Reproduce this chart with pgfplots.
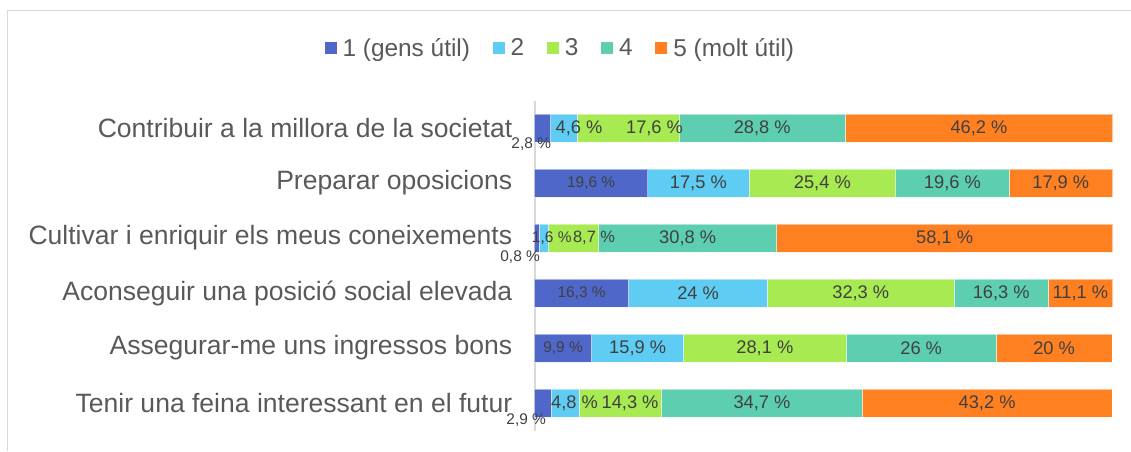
\documentclass[border=0pt]{standalone}
\usepackage{pgfplots}
\usepackage{pgfplotstable}
\pgfplotsset{compat=1.18}
\usepackage{fontspec}
\setmainfont{Liberation Sans}
\definecolor{c1}{HTML}{4E67C8}
\definecolor{c2}{HTML}{5ECCF3}
\definecolor{c3}{HTML}{A7EA52}
\definecolor{c4}{HTML}{5DCEAF}
\definecolor{c5}{HTML}{FF8021}
\definecolor{lbl}{HTML}{404040}
\definecolor{cat}{HTML}{595959}
\definecolor{grid}{HTML}{D9D9D9}

% y: 5 = top row ... 0 = bottom row
\pgfplotstableread{
y a b c d e
5 2.8 4.6 17.6 28.8 46.2
4 19.6 17.5 25.4 19.6 17.9
3 0.8 1.6 8.7 30.8 58.1
2 16.3 24 32.3 16.3 11.1
1 9.9 15.9 28.1 26 20
0 2.9 4.8 14.3 34.7 43.2
}\bars

% label table: start of segment, value, shifts (pt), font size (pt)
\pgfplotstableread{
y lo v dx dy fs
5 0 2.8 -8.5 -12 11.6
5 2.8 4.6 11.25 0 13.7
5 7.4 17.6 19.8 0 13.7
5 25 28.8 0 0 13.7
5 53.8 46.2 0 0 13.7
4 0 19.6 0 0 11.6
4 19.6 17.5 0 0 13.7
4 37.1 25.4 0 0 13.7
4 62.5 19.6 0 0 13.7
4 82.1 17.9 0 0 13.7
3 0 0.8 -12.5 -14.6 11.6
3 0.8 1.6 6 0 11.6
3 2.4 8.7 15.4 0 12.3
3 11.1 30.8 0 0 13.7
3 41.9 58.1 0 0 13.7
2 0 16.3 0 0 11.6
2 16.3 24 0 0 13.7
2 40.3 32.3 0 0 13.7
2 72.6 16.3 0 0 13.7
2 88.9 11.1 0 0 13.7
1 0 9.9 0 0 11.6
1 9.9 15.9 0 0 13.7
1 25.8 28.1 0 0 13.7
1 53.9 26 0 0 13.7
1 79.9 20 0 0 13.7
0 0 2.9 -12.5 -12.75 11.6
0 2.9 4.8 7 0 13.7
0 7.7 14.3 7.3 0 13.7
0 22 34.7 0 0 13.7
0 56.7 43.2 0 0 13.7
}\labels

\begin{document}
\begin{tikzpicture}
\path[use as bounding box] (0,0) rectangle (848.25pt,338.25pt);
\draw[grid, line width=0.75pt] (5.6pt,0) -- (5.6pt,330.4pt) -- (848.25pt,330.4pt);

\begin{axis}[
  at={(400.875pt,15.375pt)}, anchor=south west,
  scale only axis, width=433.5pt, height=247.5pt,
  xbar stacked, bar width=21pt,
  xmin=0, xmax=100, ymin=-0.5, ymax=5.5,
  axis x line=none,
  axis y line*=left,
  y axis line style={grid, line width=1.5pt},
  ytick={0,1,2,3,4,5},
  yticklabels={Tenir una feina interessant en el futur,
    Assegurar-me uns ingressos bons,
    Aconseguir una posició social elevada,
    Cultivar i enriquir els meus coneixements,
    Preparar oposicions,
    Contribuir a la millora de la societat},
  ytick style={draw=none},
  major tick length=0pt,
  yticklabel style={font=\fontsize{19.9}{22}\selectfont, text=cat, inner sep=0pt, xshift=-16.5pt},
  legend columns=5,
  legend style={draw=none, fill=none, at={(0.0441,1.159)}, anchor=center,
    font=\fontsize{18.3}{20}\selectfont, text=cat,
    /tikz/every even column/.append style={column sep=16pt},
    /tikz/every odd column/.append style={column sep=3.5pt},
    nodes={inner sep=1pt}},
  legend image code/.code={\fill[#1,draw=none] (0pt,-4.5pt) rectangle (9pt,4.5pt);},
  every axis plot/.append style={draw=white, draw opacity=0.5, line width=0.6pt},
]
\addplot[fill=c1] table[x=a,y=y] {\bars};
\addplot[fill=c2] table[x=b,y=y] {\bars};
\addplot[fill=c3] table[x=c,y=y] {\bars};
\addplot[fill=c4] table[x=d,y=y] {\bars};
\addplot[fill=c5] table[x=e,y=y] {\bars};
\legend{1 (gens útil),2,3,4,5 (molt útil)}
\end{axis}

\begin{axis}[
  at={(400.875pt,15.375pt)}, anchor=south west,
  scale only axis, width=433.5pt, height=247.5pt,
  xmin=0, xmax=100, ymin=-0.5, ymax=5.5,
  hide axis, clip=false,
]
\addplot[draw=none, mark=none,
  point meta=explicit,
  visualization depends on={\thisrow{dx} \as \lbldx},
  visualization depends on={\thisrow{dy} \as \lbldy},
  visualization depends on={\thisrow{fs} \as \lblfs},
  nodes near coords={\pgfmathprintnumber[use comma,fixed,precision=1,assume math mode=true]{\pgfplotspointmeta}\ \%},
  every node near coord/.append style={anchor=center, inner sep=0pt,
    xshift=\lbldx pt, yshift=\lbldy pt, text=lbl,
    font=\fontsize{\lblfs}{\lblfs}\selectfont},
] table[x expr=\thisrow{lo}+0.5*\thisrow{v}, y=y, meta=v] {\labels};
\end{axis}
\end{tikzpicture}
\end{document}
